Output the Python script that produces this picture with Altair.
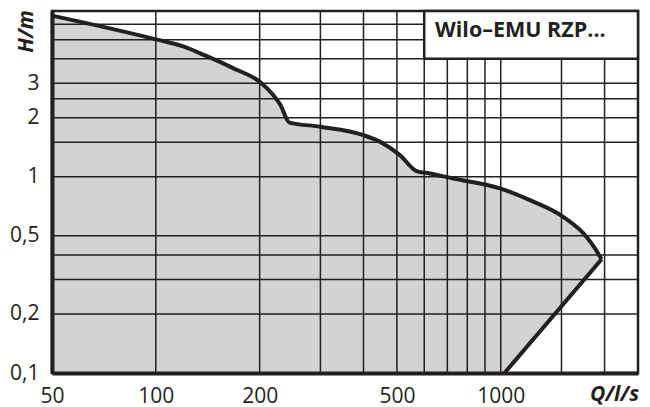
import altair as alt
import pandas as pd

# Upper limit curve (Q in l/s, H in m)
q_curve = [50, 100, 120, 140, 168, 200, 219, 229, 244, 300, 400, 456, 510, 570, 623, 728, 994, 1215, 1517, 1774, 1874, 1960]
h_curve = [6.63, 5.02, 4.62, 4.13, 3.57, 3.05, 2.61, 2.35, 1.89, 1.80, 1.63, 1.48, 1.29, 1.07, 1.04, 0.98, 0.873, 0.760, 0.625, 0.494, 0.433, 0.38]
# Falling right edge of the field
q_edge = [1960, 1025]
h_edge = [0.38, 0.1]

x_grid = [100, 200, 300, 400, 500, 600, 700, 800, 900, 1000, 1500, 2000]
y_grid = [0.2, 0.3, 0.4, 0.5, 1, 1.5, 2, 2.5, 3, 4, 5, 6]
x_labels = [50, 100, 200, 500, 1000]
y_labels = [0.1, 0.2, 0.5, 1, 2, 3]
box_q = [600, 2500]
box_h = [4, 7]
title_text = "Wilo–EMU RZP..."

INK = "#231f20"
FILL = "#d2d3d5"
FONT = "Open Sans"

xs = alt.Scale(type="log", domain=[50, 2500], nice=False)
ys = alt.Scale(type="log", domain=[0.1, 7], nice=False)

area_df = pd.DataFrame({"q": q_curve, "h": h_curve, "b": [0.1] * len(q_curve)})
tri_df = pd.DataFrame({"q": q_edge[::-1], "h": h_edge[::-1], "b": [0.1, 0.1]})
edge_df = pd.DataFrame({"q": q_edge, "h": h_edge})

x_axis = alt.Axis(
    values=x_labels, labelExpr="toString(datum.value)", grid=False, ticks=False,
    domainColor=INK, domainWidth=4, labelFont=FONT, labelFontSize=21, labelColor=INK,
    labelPadding=12, labelFlush=False, labelOverlap=False, zindex=1,
    title="Q/l/s", titleFont=FONT, titleFontSize=21, titleFontStyle="italic",
    titleFontWeight="bold", titleColor=INK, titleX=562, titleY=21,
    titleAlign="center", titleBaseline="middle",
)
y_axis = alt.Axis(
    values=y_labels, labelExpr="replace(toString(datum.value), '.', ',')", grid=False,
    ticks=False, domainColor=INK, domainWidth=4, labelFont=FONT, labelFontSize=21,
    labelColor=INK, labelPadding=13, labelFlush=False, labelOverlap=False, zindex=1,
    labelBaseline="middle",
    title="H/m", titleFont=FONT, titleFontSize=21, titleFontStyle="italic",
    titleFontWeight="bold", titleColor=INK, titleAngle=270, titleX=-26, titleY=20,
    titleAlign="center", titleBaseline="middle",
)


def X(field):
    return alt.X(field, scale=xs, axis=x_axis)


def Y(field):
    return alt.Y(field, scale=ys, axis=y_axis)


area = alt.Chart(area_df).mark_area(color=FILL, opacity=1, interpolate="monotone").encode(
    x=X("q:Q"), y=Y("h:Q"), y2="b:Q",
)
tri = alt.Chart(tri_df).mark_area(color="white", opacity=1).encode(
    x=X("q:Q"), y=Y("h:Q"), y2="b:Q",
)
vgrid = alt.Chart(pd.DataFrame({"q": x_grid})).mark_rule(color=INK, strokeWidth=1.5).encode(
    x=X("q:Q")
)
hgrid = alt.Chart(pd.DataFrame({"h": y_grid})).mark_rule(color=INK, strokeWidth=1.5).encode(
    y=Y("h:Q")
)
curve = alt.Chart(area_df).mark_line(color=INK, strokeWidth=4, interpolate="monotone").encode(
    x=X("q:Q"), y=Y("h:Q"),
)
edge = alt.Chart(edge_df).mark_line(color=INK, strokeWidth=4, strokeJoin="round").encode(
    x=X("q:Q"), y=Y("h:Q"),
)
box = alt.Chart(pd.DataFrame({"q1": [box_q[0]], "q2": [box_q[1]], "h1": [box_h[0]], "h2": [box_h[1]]})).mark_rect(
    fill="white", stroke=INK, strokeWidth=2.5
).encode(
    x=X("q1:Q"), x2="q2:Q",
    y=Y("h1:Q"), y2="h2:Q",
)
title = alt.Chart(pd.DataFrame({"t": [title_text]})).mark_text(
    font=FONT, fontSize=21.5, fontWeight="bold", color=INK, align="left", baseline="alphabetic"
).encode(x=alt.value(383), y=alt.value(26), text="t:N")

chart = alt.layer(area, tri, vgrid, hgrid, curve, edge, box, title).properties(
    width=586, height=362,
    padding={"left": 44, "top": 3, "right": 4, "bottom": 36},
    autosize=alt.AutoSizeParams(type="none"),
).configure_view(stroke=INK, strokeWidth=2.5)

chart.save("out.html", embed_options={"renderer": "svg", "actions": False})
